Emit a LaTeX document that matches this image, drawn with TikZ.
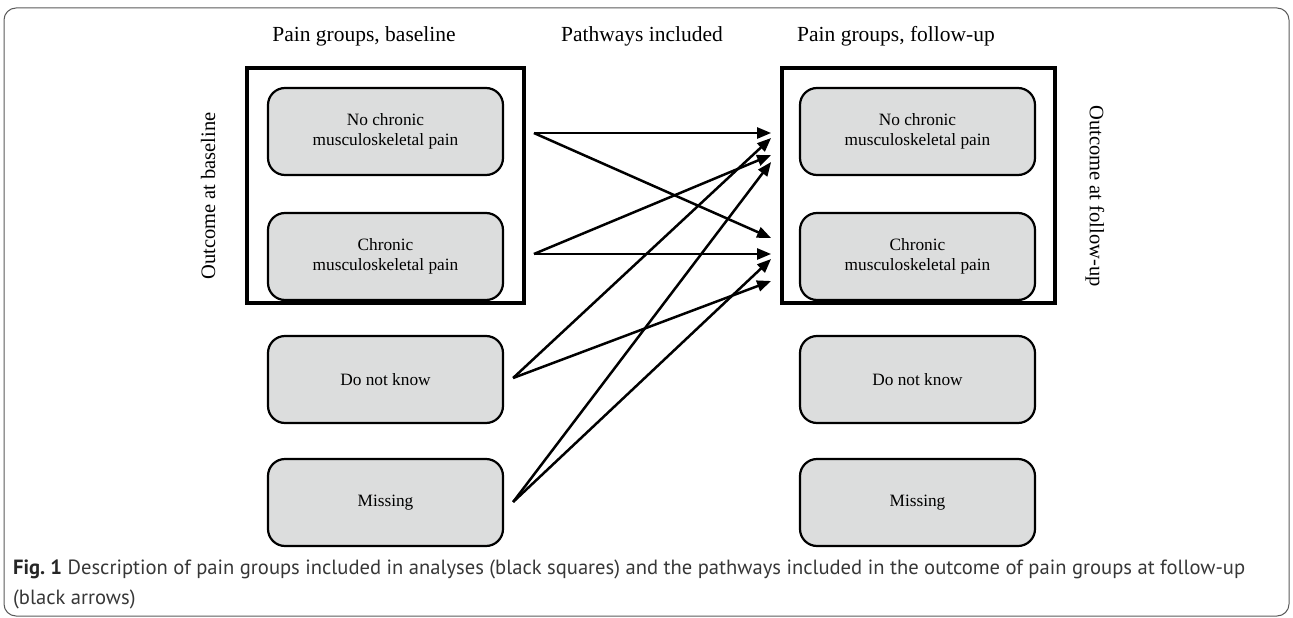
\documentclass[tikz,border=0pt]{standalone}
\usepackage{fontspec}
\setmainfont{Liberation Serif}
\newfontfamily\capfont{PT Sans}
\usetikzlibrary{arrows.meta,calc}
\definecolor{boxgray}{RGB}{220,221,221}
\definecolor{framegray}{RGB}{90,90,90}
\definecolor{captext}{RGB}{55,55,55}
\newlength\mycapw
\newcommand\mycaplineA{\textcolor{black!85}{\bfseries Fig.~1} Description of pain groups included in analyses (black squares) and the pathways included in the outcome of pain groups at follow-up}
\def\capsz{19}
\AtBeginDocument{%
  \settowidth\mycapw{\capfont\fontsize{10}{12}\selectfont\mycaplineA}%
  \ifdim\mycapw>10pt
    \pgfmathsetmacro\capszcalc{10*1232/\mycapw}%
    \global\let\capsz\capszcalc
  \fi}
\tikzset{
  grpbox/.style={draw=black, line width=2.2pt, fill=boxgray, rounded corners=17pt,
    minimum width=235pt, minimum height=87pt, align=center, inner sep=0pt,
    font=\fontsize{17.3}{20.5}\selectfont},
  blacksq/.style={draw=black, line width=3.8pt, inner sep=0pt},
  heading/.style={font=\fontsize{21.5}{24}\selectfont, inner sep=0pt},
  sidelabel/.style={font=\fontsize{20.5}{23}\selectfont, inner sep=0pt},
  arr/.style={line width=2.5pt, -{Triangle[length=14pt,width=11pt]}},
  captionline/.style={anchor=base west, inner sep=0pt, text=captext,
    font=\capfont\fontsize{\capsz}{24}\selectfont},
}
\begin{document}
\begin{tikzpicture}[x=1pt,y=-1pt]
\useasboundingbox (0,0) rectangle (1293,618);
\draw[framegray, line width=1pt, rounded corners=12pt] (4,8) rectangle (1289,616);

\node[heading] (h1) at (364,36) {Pain groups, baseline};
\node[heading] (h2) at (642,36) {Pathways included};
\node[heading] (h3) at (896,36) {Pain groups, follow-up};

\node[blacksq, minimum width=277pt, minimum height=235pt] (lsq) at (385.5,185.5) {};
\node[blacksq, minimum width=273pt, minimum height=235pt] (rsq) at (918.5,185.5) {};

\node[sidelabel, rotate=90] (ol) at (208,196) {Outcome at baseline};
\node[sidelabel, rotate=-90] (orr) at (1095,196) {Outcome at follow-up};

\node[grpbox] (lnc) at (385.5,131.5) {No chronic\\musculoskeletal pain};
\node[grpbox] (lc)  at (385.5,256.5) {Chronic\\musculoskeletal pain};
\node[grpbox] (ld)  at (385.5,379.5) {Do not know};
\node[grpbox] (lm)  at (385.5,502.5) {Missing};

\node[grpbox] (rnc) at (917.5,131.5) {No chronic\\musculoskeletal pain};
\node[grpbox] (rc)  at (917.5,256.5) {Chronic\\musculoskeletal pain};
\node[grpbox] (rd)  at (917.5,379.5) {Do not know};
\node[grpbox] (rm)  at (917.5,502.5) {Missing};

% start points
\coordinate (s1) at ($(lsq.east |- lnc.east)+(8,1.5)$);
\coordinate (s2) at ($(lsq.east |- lc.east)+(8,-2.5)$);
\coordinate (s3) at ($(ld.east)+(9,-1.5)$);
\coordinate (s4) at ($(lm.east)+(9,-0.5)$);
% end points
\coordinate (e1) at ($(rsq.west |- rnc.west)+(-9,1.5)$);
\coordinate (e2) at ($(rsq.west |- rnc.west)+(-9,6.5)$);
\coordinate (e3) at ($(rsq.west |- rnc.west)+(-9,23.5)$);
\coordinate (e4) at ($(rsq.west |- rnc.west)+(-9,30.5)$);
\coordinate (e5) at ($(rsq.west |- rc.west)+(-9,-18.5)$);
\coordinate (e6) at ($(rsq.west |- rc.west)+(-9,-2.5)$);
\coordinate (e7) at ($(rsq.west |- rc.west)+(-9,2.5)$);
\coordinate (e8) at ($(rsq.west |- rc.west)+(-9,24.5)$);

\draw[arr] (s1) -- (e1);
\draw[arr] (s1) -- (e5);
\draw[arr] (s2) -- (e3);
\draw[arr] (s2) -- (e6);
\draw[arr] (s3) -- (e2);
\draw[arr] (s3) -- (e8);
\draw[arr] (s4) -- (e4);
\draw[arr] (s4) -- (e7);

\node[captionline] (cap1) at (13,574) {\mycaplineA};
\node[captionline] (cap2) at (13,604) {(black arrows)};
\end{tikzpicture}
\end{document}
